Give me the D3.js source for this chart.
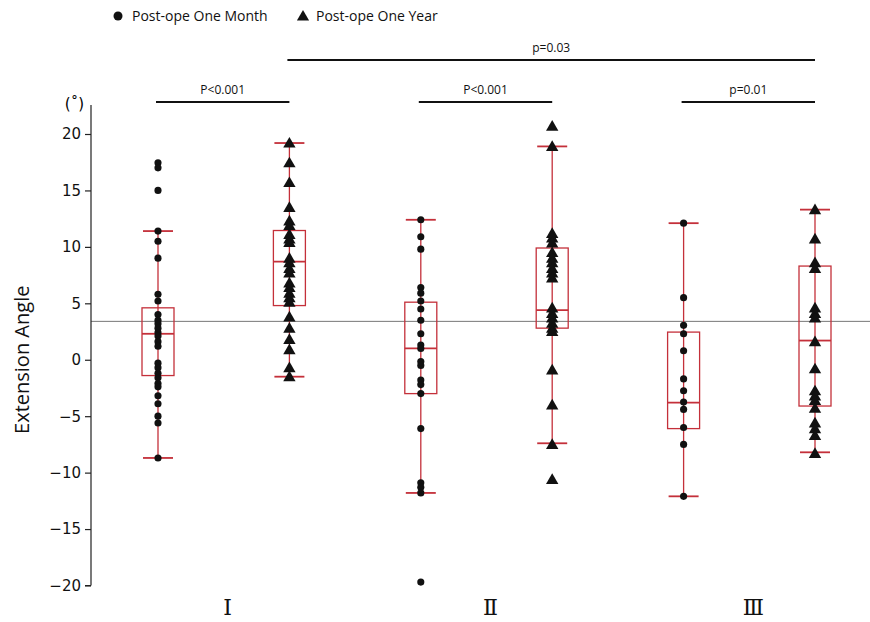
<!DOCTYPE html>
<html>
<head>
<meta charset="utf-8">
<script src="https://cdn.jsdelivr.net/npm/d3@7"></script>
<style>
  body { margin: 0; background: #fff; }
  svg { display: block; }
</style>
</head>
<body>
<svg id="chart"></svg>
<script>
// groups and series
const groups = ["Ⅰ", "Ⅱ", "Ⅲ"];
const series = ["Post-ope One Month", "Post-ope One Year"];
const yTicks = [-20, -15, -10, -5, 0, 5, 10, 15, 20];

// points (degrees)
const month1 = [17.45, 17.0, 15.0, 11.4, 10.5, 9.0, 5.8, 5.2, 4.0, 3.5, 3.2, 2.8, 2.4, 2.1, 1.6, 1.2,
  -0.3, -0.7, -1.2, -1.6, -2.1, -2.4, -3.2, -3.9, -5.0, -5.6, -8.7];
const year1 = [19.2, 17.45, 15.7, 13.5, 12.3, 11.9, 11.1, 10.7, 10.4, 9.0, 8.6, 8.1, 7.7, 6.8, 6.4, 5.9,
  5.5, 5.1, 3.8, 2.8, 1.8, 0.9, -0.7, -1.5];
const month2 = [12.4, 10.9, 9.8, 6.4, 5.9, 5.2, 4.5, 3.5, 2.3, 1.3, 1.0, -0.15, -0.5, -1.8, -2.2, -3.0,
  -6.1, -10.9, -11.3, -11.8, -19.7];
const year2 = [20.7, 18.9, 11.2, 10.8, 10.35, 9.5, 9.0, 8.6, 8.1, 7.7, 7.25, 4.6, 4.1, 3.7, 3.25, 2.8,
  2.5, -0.9, -4.0, -7.5, -10.6];
const month3 = [12.1, 5.5, 3.05, 2.3, 0.8, -1.7, -2.75, -3.75, -4.4, -6.0, -7.5, -12.1];
const year3 = [13.3, 10.7, 8.6, 8.1, 4.6, 4.1, 3.7, 1.6, -0.8, -2.75, -3.2, -3.6, -4.3, -5.6, -6.1,
  -6.7, -8.3];

// box summaries: [lower whisker, q1, median, q3, upper whisker]
const boxMonth1 = [-8.7, -1.4, 2.3, 4.6, 11.4];
const boxYear1 = [-1.5, 4.8, 8.7, 11.45, 19.2];
const boxMonth2 = [-11.8, -3.0, 1.0, 5.1, 12.4];
const boxYear2 = [-7.4, 2.8, 4.4, 9.9, 18.9];
const boxMonth3 = [-12.1, -6.1, -3.8, 2.45, 12.1];
const boxYear3 = [-8.2, -4.1, 1.7, 8.3, 13.3];

const refValue = 3.4;

// significance labels
const pLabels = ["P<0.001", "P<0.001", "p=0.01", "p=0.03"];

const width = 870, height = 622;
const red = "#c4303a";

const svg = d3.select("#chart").attr("width", width).attr("height", height);

const y = d3.scaleLinear().domain([-20, 20]).range([585.5, 134]);

// six slots, month/year per group
const slots = [];
groups.forEach(g => series.forEach(s => slots.push(g + "|" + s)));
const x = d3.scalePoint().domain(slots).range([158, 815]);

const allPoints = [month1, year1, month2, year2, month3, year3];
const allBoxes = [boxMonth1, boxYear1, boxMonth2, boxYear2, boxMonth3, boxYear3];

// reference line
svg.append("line")
  .attr("x1", 91).attr("x2", width)
  .attr("y1", y(refValue)).attr("y2", y(refValue))
  .attr("stroke", "#777").attr("stroke-width", 1);

// y axis
const yAxis = svg.append("g")
  .attr("transform", "translate(91,0)")
  .call(d3.axisLeft(y).tickValues(yTicks).tickSize(6).tickPadding(4));
yAxis.select(".domain").attr("d", `M0,${y(20) - 29}V${y(-20)}M-6,${y(-20)}H0`)
  .attr("stroke", "#222").attr("stroke-width", 1.2);
yAxis.selectAll(".tick line").attr("stroke", "#222").attr("stroke-width", 1.2);
yAxis.selectAll(".tick text")
  .style("font-family", "DejaVu Sans, Verdana, sans-serif")
  .style("font-size", "15px").attr("fill", "#111");

svg.append("text")
  .attr("x", 84).attr("y", 109)
  .attr("text-anchor", "end")
  .style("font-family", "DejaVu Sans, sans-serif").style("font-size", "15px")
  .text("(˚)");

svg.append("text")
  .attr("transform", `translate(29,${y(0)}) rotate(-90)`)
  .attr("text-anchor", "middle")
  .style("font-family", "Open Sans, sans-serif").style("font-size", "20px")
  .attr("fill", "#111")
  .text("Extension Angle");

// boxes
const boxW = 32, capW = 30;
slots.forEach((s, i) => {
  const b = allBoxes[i];
  const cx = x(s);
  const g = svg.append("g").attr("stroke", red).attr("fill", "none").attr("stroke-width", 1.3);
  g.append("line").attr("x1", cx).attr("x2", cx).attr("y1", y(b[4])).attr("y2", y(b[0]));
  g.append("rect").attr("x", cx - boxW / 2).attr("width", boxW)
    .attr("y", y(b[3])).attr("height", y(b[1]) - y(b[3]));
  g.append("line").attr("x1", cx - boxW / 2).attr("x2", cx + boxW / 2)
    .attr("y1", y(b[2])).attr("y2", y(b[2])).attr("stroke-width", 1.8);
  [b[0], b[4]].forEach(v => {
    g.append("line").attr("x1", cx - capW / 2).attr("x2", cx + capW / 2)
      .attr("y1", y(v)).attr("y2", y(v)).attr("stroke-width", 1.8);
  });
});

// points
const circleSym = d3.symbol().type(d3.symbolCircle).size(40);
const triSym = d3.symbol().type(d3.symbolTriangle).size(66);
slots.forEach((s, i) => {
  const sym = i % 2 === 0 ? circleSym : triSym;
  svg.append("g").selectAll("path")
    .data(allPoints[i])
    .join("path")
    .attr("d", sym)
    .attr("transform", d => `translate(${x(s)},${y(d) + (i % 2 === 0 ? 0 : 1)})`)
    .attr("fill", "#111");
});

// group labels
groups.forEach((gname, gi) => {
  const cx = (x(slots[gi * 2]) + x(slots[gi * 2 + 1])) / 2 + 4;
  svg.append("text")
    .attr("x", cx).attr("y", 615)
    .attr("text-anchor", "middle")
    .style("font-family", "DejaVu Serif, serif").style("font-size", "22px")
    .attr("fill", "#111")
    .text(gname);
});

// significance brackets
const brackets = [
  { a: 0, b: 1, label: pLabels[0], yPos: 102 },
  { a: 2, b: 3, label: pLabels[1], yPos: 102 },
  { a: 4, b: 5, label: pLabels[2], yPos: 102 },
  { a: 1, b: 5, label: pLabels[3], yPos: 60 }
];
brackets.forEach(br => {
  const x1 = x(slots[br.a]) - 2, x2 = x(slots[br.b]);
  svg.append("line").attr("x1", x1).attr("x2", x2)
    .attr("y1", br.yPos).attr("y2", br.yPos)
    .attr("stroke", "#111").attr("stroke-width", 2);
  svg.append("text")
    .attr("x", (x1 + x2) / 2).attr("y", br.yPos - 8)
    .attr("text-anchor", "middle")
    .style("font-family", "Open Sans, sans-serif").style("font-size", "12px")
    .attr("fill", "#111")
    .text(br.label);
});

// legend
const legend = svg.append("g").attr("transform", "translate(118,16)");
legend.append("path").attr("d", d3.symbol().type(d3.symbolCircle).size(64)).attr("fill", "#111");
legend.append("text").attr("x", 14).attr("y", 5)
  .style("font-family", "Open Sans, sans-serif").style("font-size", "14px").attr("fill", "#111")
  .text(series[0]);
legend.append("path").attr("d", d3.symbol().type(d3.symbolTriangle).size(64))
  .attr("transform", "translate(185,1)").attr("fill", "#111");
legend.append("text").attr("x", 198).attr("y", 5)
  .style("font-family", "Open Sans, sans-serif").style("font-size", "14px").attr("fill", "#111")
  .text(series[1]);
</script>
</body>
</html>
